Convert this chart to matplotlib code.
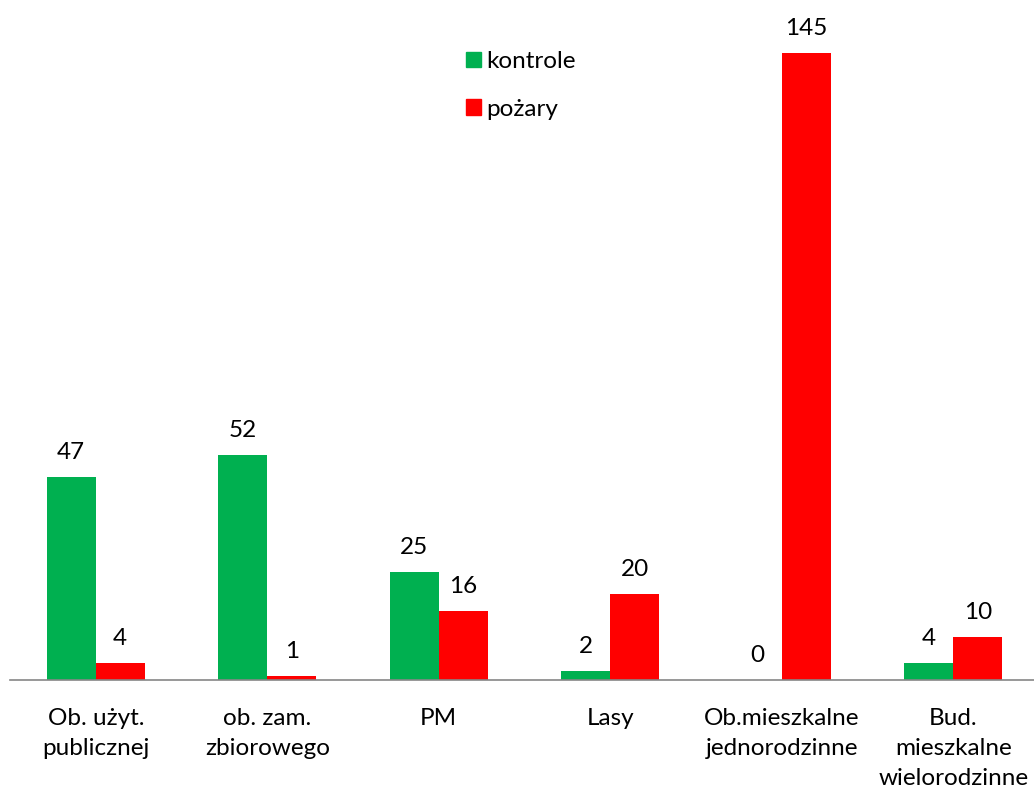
import matplotlib
matplotlib.use("Agg")
import matplotlib.pyplot as plt
from matplotlib.patches import Patch
import numpy as np

plt.rcParams['font.family'] = ['Lato', 'DejaVu Sans']

categories = ["Ob. użyt.\npublicznej", "ob. zam.\nzbiorowego", "PM", "Lasy",
              "Ob.mieszkalne\njednorodzinne", "Bud.\nmieszkalne\nwielorodzinne"]
kontrole = [47, 52, 25, 2, 0, 4]
pozary = [4, 1, 16, 20, 145, 10]
series_names = ["kontrole", "pożary"]

GREEN = "#00B050"
RED = "#FF0000"
FS = 17.5

W, H = 1034, 791
fig = plt.figure(figsize=(W / 100, H / 100), dpi=100)
# axes in pixel terms: left 10, width 1029 (runs a bit off the right edge), bottom at 680
ax = fig.add_axes([10 / W, 1 - 680 / H, 1029 / W, 670 / H])

x = np.arange(len(categories))
bw = 0.286
b1 = ax.bar(x - bw / 2, kontrole, bw, color=GREEN)
b2 = ax.bar(x + bw / 2, pozary, bw, color=RED)

for bars, vals in ((b1, kontrole), (b2, pozary)):
    for rect, v in zip(bars, vals):
        ax.annotate(str(v), (rect.get_x() + rect.get_width() / 2, rect.get_height()),
                    xytext=(0, 10), textcoords="offset points",
                    ha="center", va="bottom", fontsize=FS, color="black")

ax.set_xlim(-0.5, len(categories) - 0.5)
ax.set_ylim(0, 670 / 4.324)
ax.set_xticks(x)
ax.set_xticklabels(categories, fontsize=FS, linespacing=1.55)
ax.tick_params(axis="x", length=0, pad=20)
ax.set_yticks([])
for s in ("top", "right", "left"):
    ax.spines[s].set_visible(False)
ax.spines["bottom"].set_color("#868686")
ax.spines["bottom"].set_linewidth(1.2)

handles = [Patch(color=GREEN), Patch(color=RED)]
fig.legend(handles, series_names, loc="upper left",
           bbox_to_anchor=(466 / W, 1 - 51 / H), frameon=False, fontsize=FS,
           handlelength=0.6, handleheight=0.6, handletextpad=0.25,
           labelspacing=1.1, borderpad=0, borderaxespad=0)

fig.savefig("out.png", dpi=100)
